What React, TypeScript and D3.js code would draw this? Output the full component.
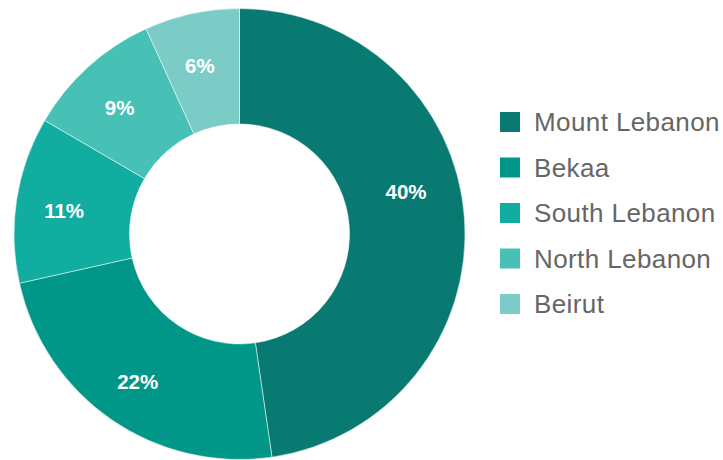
import React from "react";
import * as d3 from "d3";

const categories = ["Mount Lebanon", "Bekaa", "South Lebanon", "North Lebanon", "Beirut"];
const values = [47.7, 23.8, 11.9, 9.8, 6.8];
const valueLabels = ["40%", "22%", "11%", "9%", "6%"];
const colors = ["#097a71", "#009688", "#12ada1", "#47c0b6", "#7bccc6"];

export default function App() {
  const W = 723, H = 460;
  const cx = 239.5, cy = 234;
  const outerR = 225.5, innerR = 110;
  const labelR = 175;
  const pie = d3.pie<number>().sort(null).value((d) => d);
  const arcs = pie(values);
  const arcGen = d3.arc<d3.PieArcDatum<number>>().innerRadius(innerR).outerRadius(outerR);
  const legendY = d3.scaleLinear().domain([0, 1]).range([112, 157.5]);

  return (
    <svg width={W} height={H} style={{ position: "absolute", left: 0, top: 0 }}>
      <rect width={W} height={H} fill="#fff" />
      <g transform={`translate(${cx},${cy})`}>
        {arcs.map((a, i) => (
          <path key={i} d={arcGen(a) || ""} fill={colors[i]} stroke="#fff" strokeWidth={0.5} />
        ))}
        {arcs.map((a, i) => {
          const span = a.endAngle - a.startAngle;
          const limit = (150 * Math.PI) / 180;
          let ang = (a.startAngle + a.endAngle) / 2;
          if (span > limit) ang -= (span - limit) / 2;
          const x = labelR * Math.sin(ang) - 2.5;
          const y = -labelR * Math.cos(ang) + 3;
          return (
            <text
              key={i}
              x={x}
              y={y}
              textAnchor="middle"
              dominantBaseline="central"
              fill="#fff"
              fontFamily="Liberation Sans, Arial, sans-serif"
              fontWeight="bold"
              fontSize={20.5}
            >
              {valueLabels[i]}
            </text>
          );
        })}
      </g>
      <g>
        {categories.map((c, i) => (
          <g key={c} transform={`translate(500,${legendY(i)})`}>
            <rect width={20} height={20} fill={colors[i]} />
            <text
              x={34}
              y={19}
              fill="#666"
              fontFamily="Liberation Sans, Arial, sans-serif"
              fontSize={26}
              letterSpacing={0.4}
            >
              {c}
            </text>
          </g>
        ))}
      </g>
    </svg>
  );
}
